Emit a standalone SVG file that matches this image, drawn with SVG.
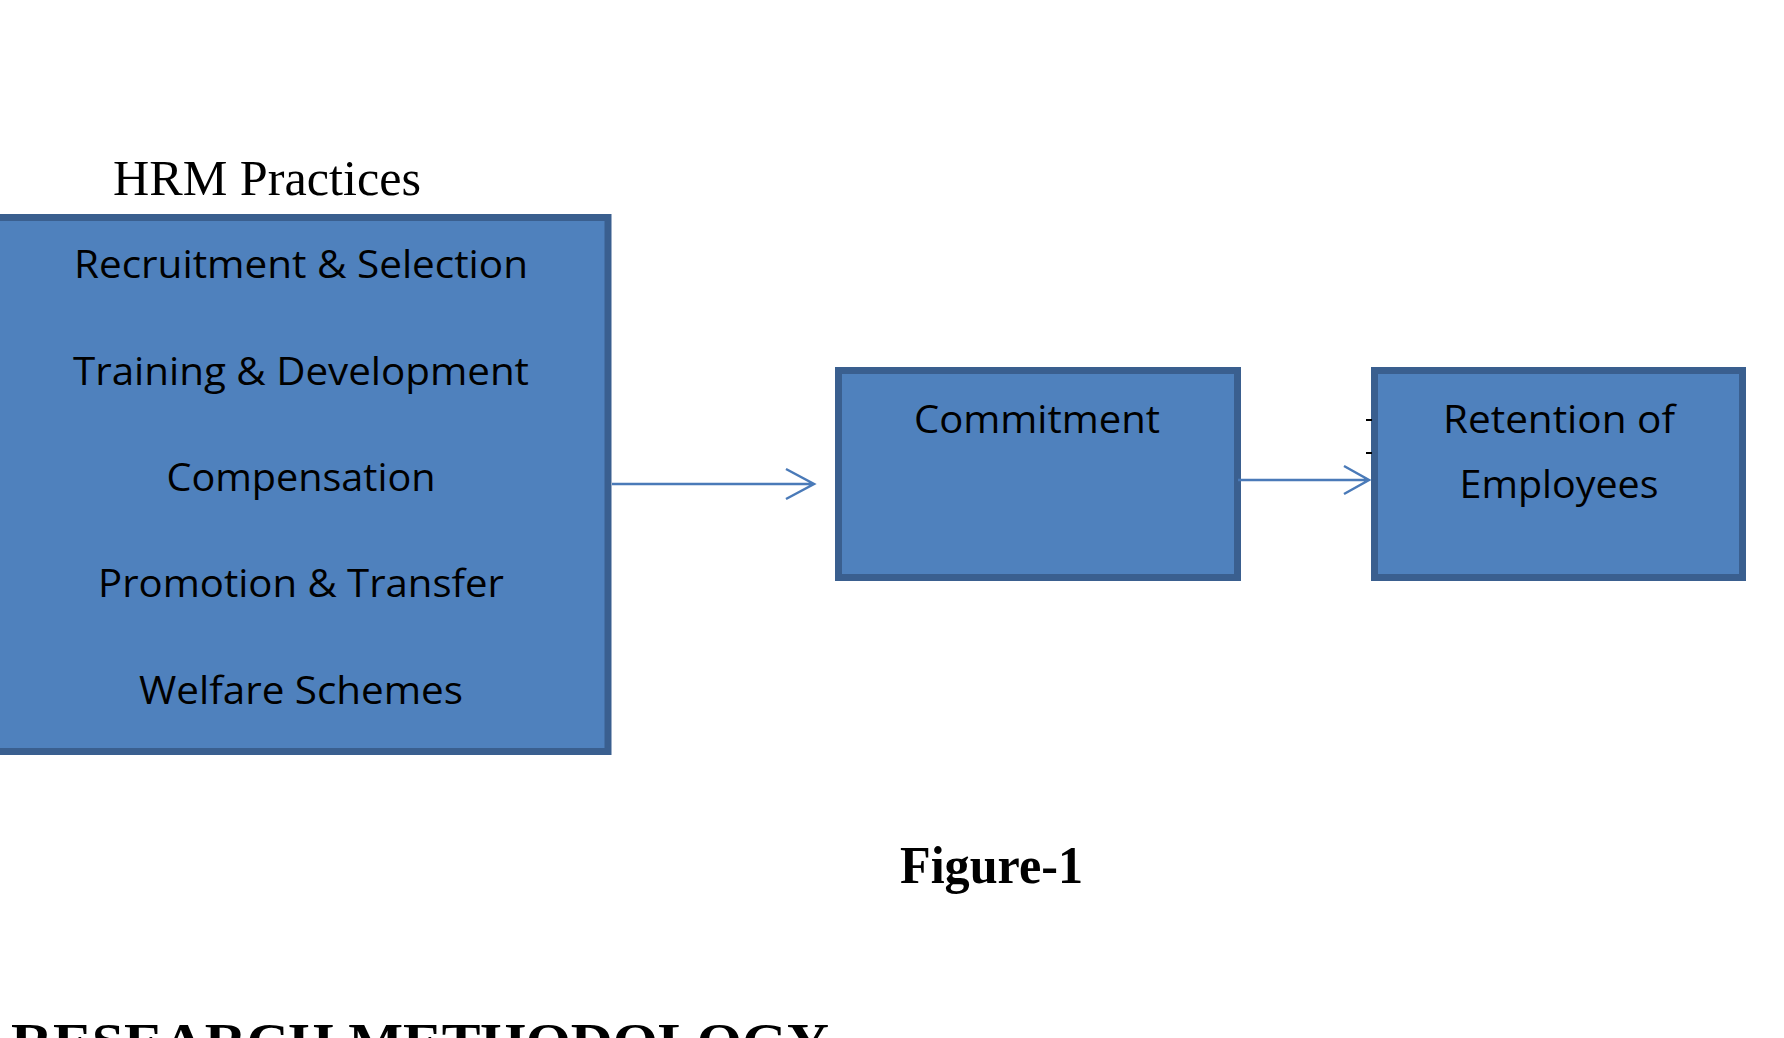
<svg xmlns="http://www.w3.org/2000/svg" width="1784" height="1038" viewBox="0 0 1784 1038">
<style>
.box{fill:#4f81bd;stroke:#3a5f8f;stroke-width:7}
.t{font-family:"Open Sans","Liberation Sans",sans-serif;font-size:38px;fill:#000;text-anchor:middle}
.s{font-family:"Liberation Serif","DejaVu Serif",serif;fill:#000}
.c{stroke:#4a7ab8;stroke-width:2.5;fill:none}
</style>
<rect width="1784" height="1038" fill="#fff"/>
<text class="s" x="113" y="195" font-size="50" textLength="308" lengthAdjust="spacingAndGlyphs">HRM Practices</text>
<g id="hrm">
<rect class="box" x="-4" y="217.5" width="612" height="534"/>
<text class="t" x="301" y="278" textLength="454" lengthAdjust="spacingAndGlyphs">Recruitment &amp; Selection</text>
<text class="t" x="301" y="385" textLength="456" lengthAdjust="spacingAndGlyphs">Training &amp; Development</text>
<text class="t" x="301" y="491" textLength="269" lengthAdjust="spacingAndGlyphs">Compensation</text>
<text class="t" x="301" y="597" textLength="406" lengthAdjust="spacingAndGlyphs">Promotion &amp; Transfer</text>
<text class="t" x="301" y="704" textLength="324" lengthAdjust="spacingAndGlyphs">Welfare Schemes</text>
</g>
<g id="commitment">
<rect class="box" x="844.5" y="370.5" width="399" height="207" transform="translate(-6 0)"/>
<text class="t" x="1037" y="433" textLength="246" lengthAdjust="spacingAndGlyphs">Commitment</text>
</g>
<g id="retention">
<rect class="box" x="1374.5" y="370.5" width="368" height="207"/>
<text class="t" x="1559" y="433" textLength="232" lengthAdjust="spacingAndGlyphs">Retention of</text>
<text class="t" x="1559" y="498" textLength="199" lengthAdjust="spacingAndGlyphs">Employees</text>
</g>
<g id="connectors">
<path class="c" d="M612 484 H814 M786 469 L814 484 L786 499"/>
<path class="c" d="M1238 480 H1369 M1344 466 L1369 480 L1344 494"/>
<path d="M1366 420 H1372 M1366 453 H1372" stroke="#000" stroke-width="2"/>
</g>
<text class="s" x="900" y="883" font-size="52" font-weight="bold" textLength="183" lengthAdjust="spacingAndGlyphs">Figure-1</text>
<text class="s" x="11" y="1060" font-size="52" font-weight="bold" textLength="818" lengthAdjust="spacingAndGlyphs">RESEARCH METHODOLOGY</text>
</svg>
